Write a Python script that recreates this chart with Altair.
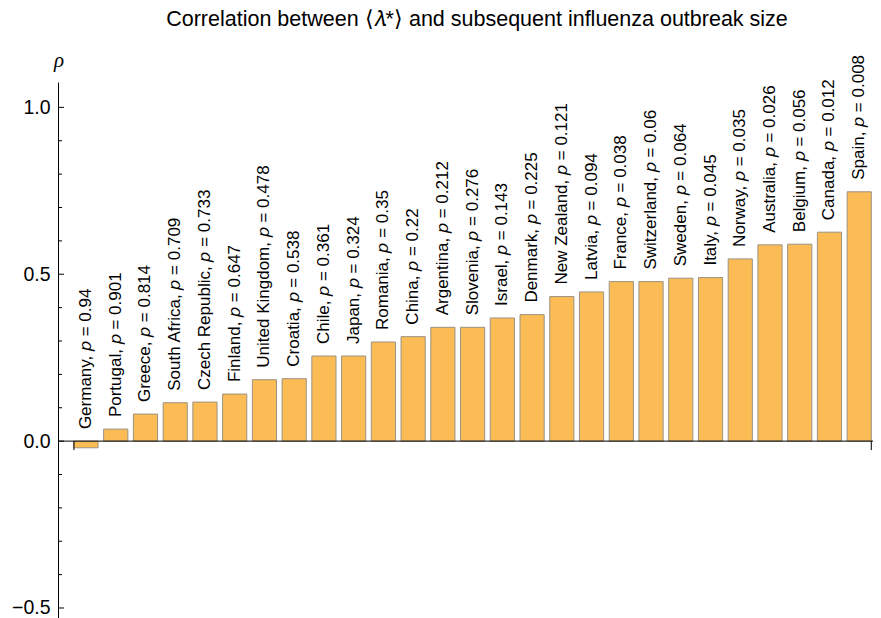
import altair as alt
import pandas as pd

countries = ["Germany", "Portugal", "Greece", "South Africa", "Czech Republic", "Finland",
             "United Kingdom", "Croatia", "Chile", "Japan", "Romania", "China", "Argentina",
             "Slovenia", "Israel", "Denmark", "New Zealand", "Latvia", "France", "Switzerland",
             "Sweden", "Italy", "Norway", "Australia", "Belgium", "Canada", "Spain"]
rho = [-0.020, 0.036, 0.081, 0.115, 0.117, 0.141, 0.184, 0.187, 0.255, 0.255, 0.297, 0.313,
       0.341, 0.341, 0.369, 0.379, 0.433, 0.447, 0.478, 0.478, 0.488, 0.490, 0.546, 0.588,
       0.590, 0.626, 0.747]
p_values = ["0.94", "0.901", "0.814", "0.709", "0.733", "0.647", "0.478", "0.538", "0.361",
            "0.324", "0.35", "0.22", "0.212", "0.276", "0.143", "0.225", "0.121", "0.094",
            "0.038", "0.06", "0.064", "0.045", "0.035", "0.026", "0.056", "0.012", "0.008"]
title_text = "Correlation between  \u27e8\U0001D706*\u27e9 and subsequent influenza outbreak size"
y_major = [-0.5, 0.0, 0.5, 1.0]
y_minor = [-0.4, -0.3, -0.2, -0.1, 0.1, 0.2, 0.3, 0.4, 0.6, 0.7, 0.8, 0.9]
y_domain = [-0.53, 1.076]

df = pd.DataFrame({"country": countries, "rho": rho, "p": p_values})
df["label"] = df["country"] + ", \U0001D45D = " + df["p"]
df["ylab"] = df["rho"].clip(lower=0)

W, H = 815, 536
xscale = alt.Scale(domain=countries, paddingInner=0.187, paddingOuter=0.296, align=0.904)
yscale = alt.Scale(domain=y_domain, nice=False, zero=False)

X = lambda **kw: alt.X("country:N", scale=xscale, sort=countries, axis=None, **kw)

yaxis = alt.Axis(values=y_major, format=".1f", ticks=False, grid=False,
                 domainColor="black", domainWidth=1,
                 labelFontSize=19.5, labelFont="Liberation Sans", labelColor="black",
                 labelPadding=8,
                 title="\u03c1", titleAngle=0, titleX=0.5, titleY=-16,
                 titleFont="Liberation Serif", titleFontStyle="italic",
                 titleFontWeight="normal", titleFontSize=21, titleAlign="center",
                 titleBaseline="alphabetic", titleColor="black")


def Y(field):
    return alt.Y(field, scale=yscale, axis=yaxis)


bars = alt.Chart(df).mark_bar(fill="#FBBC55", stroke="#9C9282", strokeWidth=1).encode(
    x=X(),
    y=Y("rho:Q"),
    y2=alt.datum(0),
)

labels = alt.Chart(df).mark_text(angle=270, align="left", baseline="middle", dx=12,
                                 fontSize=17, font="Liberation Sans", color="black").encode(
    x=X(),
    y=Y("ylab:Q"),
    text="label:N",
)

major = alt.Chart(pd.DataFrame({"v": y_major})).mark_rule(color="black", strokeWidth=1).encode(
    y=Y("v:Q"), x=alt.value(0), x2=alt.value(6))
minor = alt.Chart(pd.DataFrame({"v": y_minor})).mark_rule(color="black", strokeWidth=1).encode(
    y=Y("v:Q"), x=alt.value(0), x2=alt.value(4))

zero_line = alt.Chart(pd.DataFrame({"v": [0.0]})).mark_rule(color="black", strokeWidth=1).encode(
    y=Y("v:Q"), x=alt.value(0), x2=alt.value(W))

edge_df_l = pd.DataFrame({"country": [countries[0]], "a": [0.0], "b": [-0.027]})
edge_df_r = pd.DataFrame({"country": [countries[-1]], "a": [0.0], "b": [-0.027]})
edge_l = alt.Chart(edge_df_l).mark_rule(color="black", strokeWidth=1).encode(
    x=X(bandPosition=0), y=Y("a:Q"), y2="b:Q")
edge_r = alt.Chart(edge_df_r).mark_rule(color="black", strokeWidth=1).encode(
    x=X(bandPosition=1), y=Y("a:Q"), y2="b:Q")

title = alt.Chart(pd.DataFrame({"t": [title_text]})).mark_text(
    fontSize=21.5, font="Liberation Sans", align="center", baseline="alphabetic",
    color="black").encode(x=alt.value(419), y=alt.value(-56), text="t:N")

chart = alt.layer(bars, labels, major, minor, zero_line, edge_l, edge_r, title).properties(
    width=W, height=H,
    autosize=alt.AutoSizeParams(type="none"),
    padding={"left": 50, "top": 74, "right": 0, "bottom": 0},
).configure_view(stroke=None)

chart.save("out.html", embed_options={"renderer": "svg", "actions": False})
